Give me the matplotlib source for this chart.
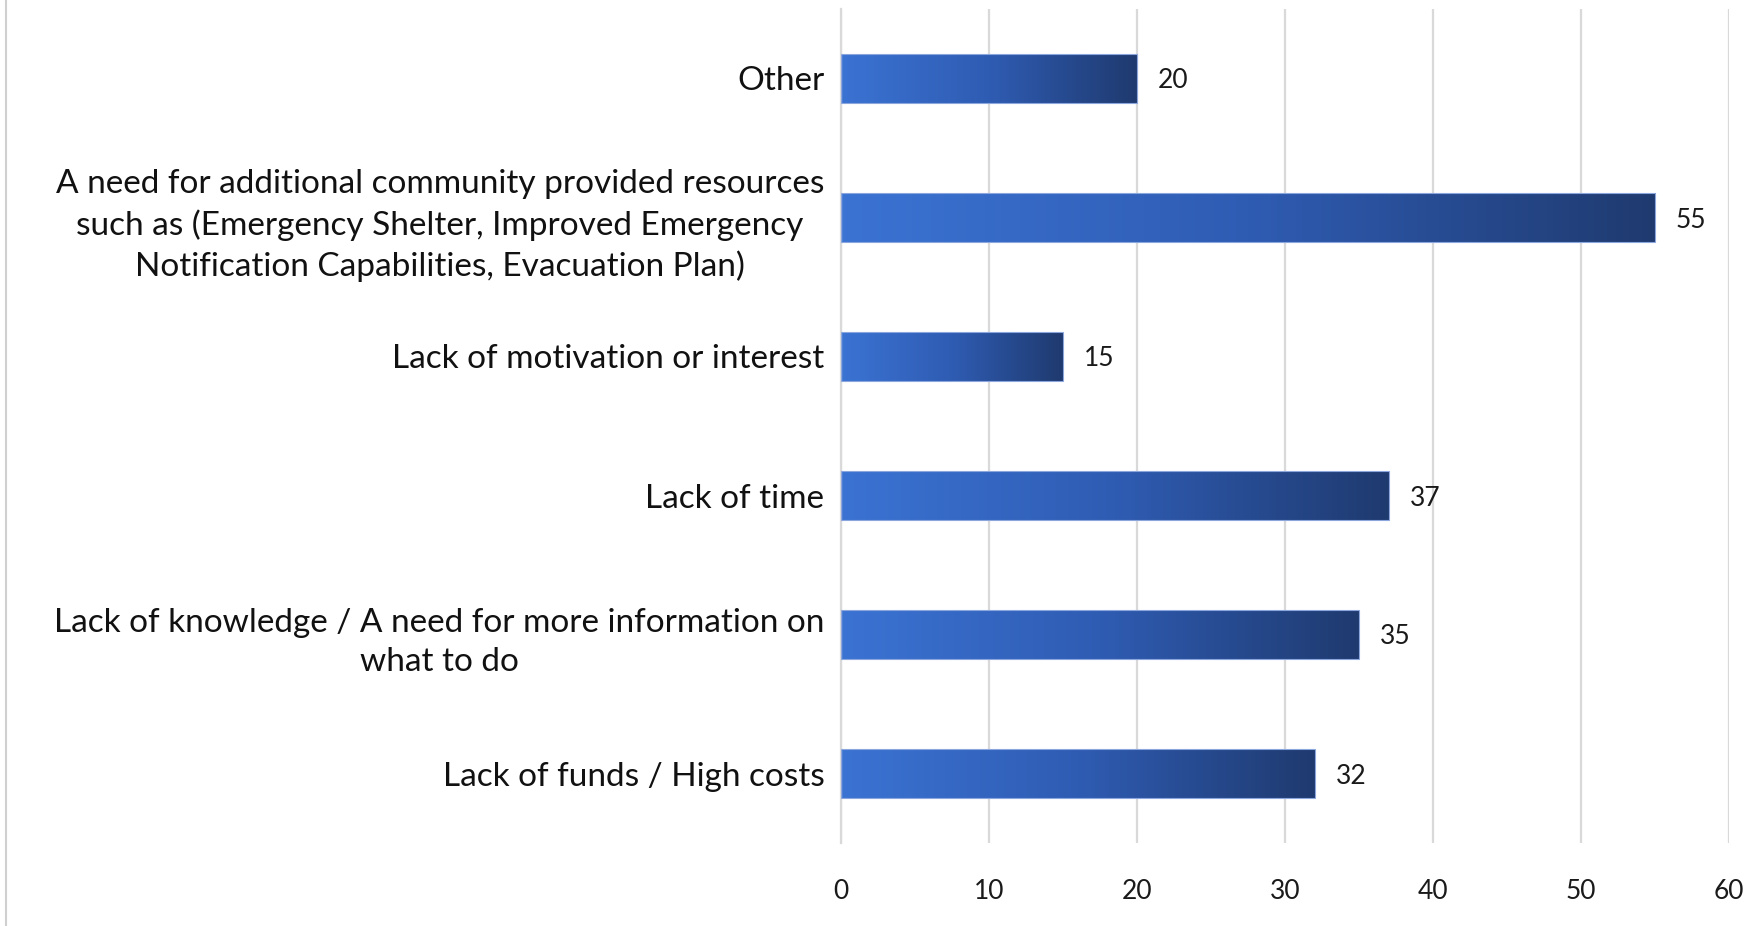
import numpy as np
import matplotlib
matplotlib.use("Agg")
import matplotlib.pyplot as plt
from matplotlib.colors import LinearSegmentedColormap

categories = [
    "Lack of funds / High costs",
    "Lack of knowledge / A need for more information on\nwhat to do",
    "Lack of time",
    "Lack of motivation or interest",
    "A need for additional community provided resources\nsuch as (Emergency Shelter, Improved Emergency\nNotification Capabilities, Evacuation Plan)",
    "Other",
]
values = [32, 35, 37, 15, 55, 20]
xticks = [0, 10, 20, 30, 40, 50, 60]

plt.rcParams['font.family'] = ['Lato', 'DejaVu Sans']

fig = plt.figure(figsize=(17.63, 9.26), dpi=100)
ax = fig.add_axes([841/1763, 1 - 843/926, (1729-841)/1763, (843-9)/926])

grad = LinearSegmentedColormap.from_list("bar", ["#3b73d3", "#2f5cb3", "#1f3a6f"])

y = np.arange(len(categories))
bars = ax.barh(y, values, height=0.35, color="none", edgecolor="#8aa6dc", linewidth=0.8, zorder=3)
g = np.linspace(0, 1, 256).reshape(1, -1)
for b in bars:
    x0, y0, w, h = b.get_x(), b.get_y(), b.get_width(), b.get_height()
    im = ax.imshow(g, cmap=grad, aspect="auto", extent=[x0, x0 + w, y0, y0 + h],
                   zorder=2, interpolation="bilinear")
    im.set_clip_path(b)
    ax.annotate(str(int(w)), (x0 + w, y0 + h / 2), xytext=(15, 0), textcoords="offset points",
                va="center_baseline", ha="left", fontsize=19, color="#1a1a1a")

ax.set_xlim(0, 60)
ax.set_ylim(-0.5, len(categories) - 0.5)
ax.set_xticks(xticks)
ax.set_yticks(y)
ax.set_yticklabels(categories, fontsize=24, color="#111111", multialignment="center", linespacing=1.4)
ax.tick_params(axis="y", length=0, pad=12)
ax.tick_params(axis="x", length=0, pad=26, labelsize=19, labelcolor="#1a1a1a")
ax.xaxis.grid(True, color="#d9d9d9", linewidth=1.6, zorder=0)
ax.set_axisbelow(True)
for s in ["top", "right", "bottom"]:
    ax.spines[s].set_visible(False)
ax.spines["left"].set_color("#d9d9d9")
ax.spines["left"].set_linewidth(1.6)

fig.add_artist(plt.Line2D([6/1763, 6/1763], [0, 1], color="#d0d0d0", linewidth=1.5))

fig.savefig("out.png", dpi=100)
